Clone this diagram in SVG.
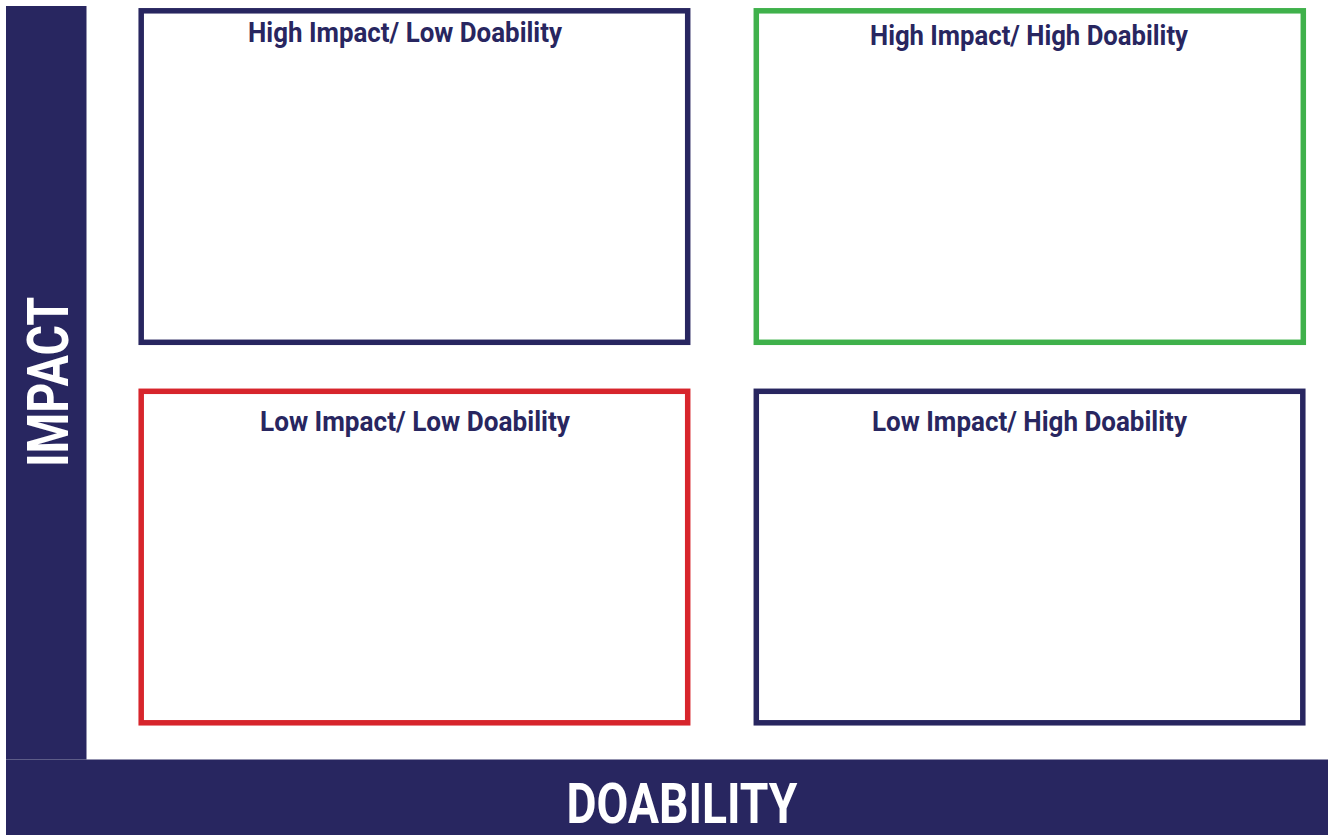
<svg xmlns="http://www.w3.org/2000/svg" width="1328" height="835" viewBox="0 0 1328 835">
<style>
.box{fill:#fff;stroke-width:5.5}
.navy{stroke:#282660}
.green{stroke:#3FB14B}
.red{stroke:#D7252C}
.title{font-family:"Roboto","Liberation Sans",sans-serif;font-weight:bold;font-size:28px;fill:#282660;text-anchor:middle}
.axis{font-family:"Roboto","Liberation Sans",sans-serif;font-weight:bold;fill:#fff;text-anchor:middle}
</style>
<rect width="1328" height="835" fill="#fff"/>
<g id="axis-impact">
<rect x="6" y="6" width="80.5" height="753.5" fill="#282660"/>
<text class="axis" font-size="57" transform="translate(68,382) rotate(-90)" textLength="170" lengthAdjust="spacingAndGlyphs">IMPACT</text>
</g>
<g id="axis-doability">
<rect x="6" y="759.5" width="1322" height="75.5" fill="#282660"/>
<text class="axis" x="682" y="822.5" font-size="56" textLength="231" lengthAdjust="spacingAndGlyphs">DOABILITY</text>
</g>
<g id="q-high-low">
<rect class="box navy" x="141.2" y="10.8" width="546.5" height="331.5"/>
<text class="title" x="405" y="41.7" textLength="314" lengthAdjust="spacingAndGlyphs">High Impact/ Low Doability</text>
</g>
<g id="q-high-high">
<rect class="box green" x="756.3" y="10.8" width="547" height="331.5"/>
<text class="title" x="1029" y="45" textLength="318" lengthAdjust="spacingAndGlyphs">High Impact/ High Doability</text>
</g>
<g id="q-low-low">
<rect class="box red" x="141.2" y="391.3" width="546.5" height="331.5"/>
<text class="title" x="415" y="430.5" textLength="310" lengthAdjust="spacingAndGlyphs">Low Impact/ Low Doability</text>
</g>
<g id="q-low-high">
<rect class="box navy" x="756.3" y="391.3" width="546.5" height="331.5"/>
<text class="title" x="1029.5" y="430.5" textLength="315" lengthAdjust="spacingAndGlyphs">Low Impact/ High Doability</text>
</g>
<g id="connectors"/>
</svg>
